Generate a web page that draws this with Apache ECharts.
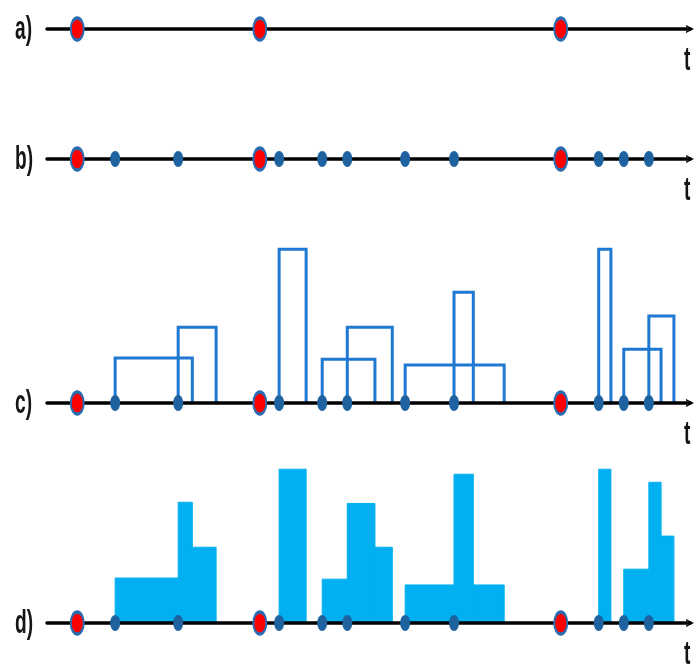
<!DOCTYPE html>
<html>
<head>
<meta charset="utf-8">
<script src="https://cdn.jsdelivr.net/npm/echarts@6/dist/echarts.min.js"></script>
<style>
html,body{margin:0;padding:0;background:#fff;}
#chart{width:694px;height:666px;}
</style>
</head>
<body>
<div id="chart"></div>
<script>
// time unit: 0..100 along each axis
const rowLabels = ['a)', 'b)', 'c)', 'd)'];
const axisName = 't';
const redEvents = [4.7, 33.1, 79.9];
const blueEvents = [10.6, 20.4, 36.1, 42.8, 46.7, 55.7, 63.3, 85.8, 89.7, 93.6];
const durations = [12.0, 5.9, 4.2, 8.2, 7.0, 15.4, 3.0, 1.9, 5.8, 3.9];
const heights = [1.17, 1.97, 4.0, 1.14, 1.97, 0.99, 2.88, 4.0, 1.40, 2.26];

// rectangles (start, end, height) for row c
const rects = blueEvents.map((t, i) => [t, t + durations[i], heights[i]]);
// summed step function for row d
const bps = Array.from(new Set(rects.flatMap(r => [r[0], r[1]]))).sort((a, b) => a - b);
const steps = [];
for (let i = 0; i < bps.length - 1; i++) {
  const a = bps[i], b = bps[i + 1];
  let s = 0;
  rects.forEach(r => { if (r[0] <= a && r[1] >= b) s += r[2]; });
  if (s > 0) steps.push([a, b, s]);
}

const chart = echarts.init(document.getElementById('chart'), null, {renderer: 'canvas'});
const axisY = [29, 159, 403, 623];
const gridTop = [9, 139, 230, 450];
const yMax = [1, 1, 4.5, 4.5];
const chevron = 'path://M0,10 L5,0 L10,10 L8,10 L5,3.6 L2,10 Z';

const grids = [], xAxes = [], yAxes = [], series = [], graphics = [];
for (let i = 0; i < 4; i++) {
  grids.push({left: 47, right: 4, top: gridTop[i], height: axisY[i] - gridTop[i]});
  xAxes.push({
    gridIndex: i, type: 'value', min: 0, max: 100, z: 5,
    axisLine: {show: true, onZero: false, lineStyle: {color: '#000', width: 3.5},
      symbol: ['none', chevron], symbolSize: [11, 8]},
    axisTick: {show: false}, axisLabel: {show: false}, splitLine: {show: false}
  });
  yAxes.push({gridIndex: i, type: 'value', min: 0, max: yMax[i], show: false});
  graphics.push({type: 'text', x: 15, y: axisY[i] + 1, scaleX: 0.58,
    style: {text: rowLabels[i], font: 'bold 33px "Liberation Sans"', fill: '#151515',
      textVerticalAlign: 'middle', verticalAlign: 'middle'}});
  graphics.push({type: 'text', x: 684, y: axisY[i] + 32, scaleX: 0.58,
    style: {text: axisName, font: 'bold 33px "Liberation Sans"', fill: '#151515',
      textVerticalAlign: 'middle', verticalAlign: 'middle'}});
}

// row c outlines
series.push({
  type: 'custom', xAxisIndex: 2, yAxisIndex: 2, z: 2, silent: true,
  data: rects,
  renderItem: function (params, api) {
    const p0 = api.coord([api.value(0), 0]);
    const p1 = api.coord([api.value(1), api.value(2)]);
    return {type: 'polyline',
      shape: {points: [[p0[0], p0[1]], [p0[0], p1[1]], [p1[0], p1[1]], [p1[0], p0[1]]]},
      style: {stroke: '#1f78d1', lineWidth: 3, fill: null}};
  }
});
// row d filled steps
series.push({
  type: 'custom', xAxisIndex: 3, yAxisIndex: 3, z: 2, silent: true,
  data: steps,
  renderItem: function (params, api) {
    const p0 = api.coord([api.value(0), 0]);
    const p1 = api.coord([api.value(1), api.value(2)]);
    return {type: 'rect',
      shape: {x: p0[0], y: p1[1], width: p1[0] - p0[0], height: p0[1] - p1[1]},
      style: {fill: '#00b0f0', stroke: '#00b0f0', lineWidth: 1}};
  }
});
for (let i = 0; i < 4; i++) {
  series.push({
    type: 'scatter', xAxisIndex: i, yAxisIndex: i, z: 10, silent: true,
    symbol: 'circle', symbolSize: [13, 22],
    itemStyle: {color: '#ff0000', borderColor: '#2a6cb0', borderWidth: 2.5, opacity: 1},
    data: redEvents.map(t => [t, 0])
  });
  if (i > 0) {
    series.push({
      type: 'scatter', xAxisIndex: i, yAxisIndex: i, z: 10, silent: true,
      symbol: 'circle', symbolSize: [10, 16],
      itemStyle: {color: '#1e63a0', opacity: 1},
      data: blueEvents.map(t => [t, 0])
    });
  }
}

chart.setOption({
  animation: false,
  backgroundColor: '#fff',
  grid: grids, xAxis: xAxes, yAxis: yAxes, series: series, graphic: graphics
});
</script>
</body>
</html>
